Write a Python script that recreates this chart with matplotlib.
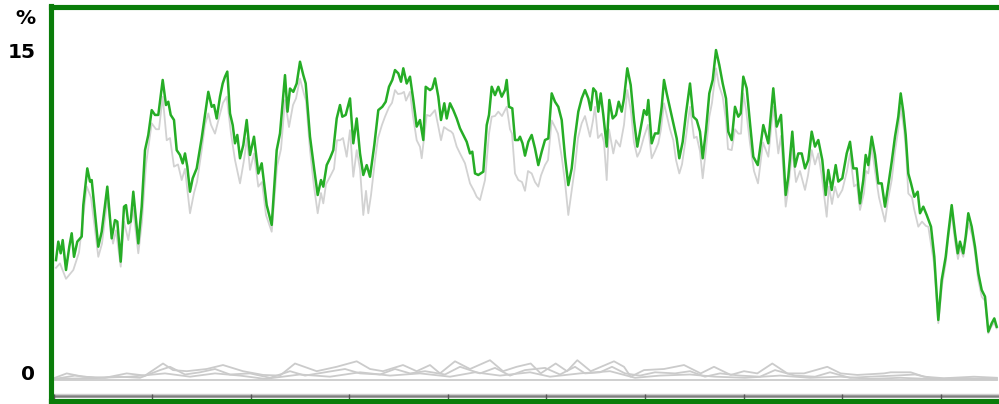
import numpy as np
import matplotlib
matplotlib.use("Agg")
import matplotlib.pyplot as plt
from matplotlib.ticker import MultipleLocator
from matplotlib.transforms import ScaledTranslation

# Positions along the time axis and values in %
green_t = [56, 58.3, 60.7, 62.7, 66, 69.3, 71.7, 74, 77.3, 81.7, 83.3, 87.3, 90, 91.7, 95, 98.3,
           101.7, 107.3, 111.7, 115, 117.3, 120.7, 124, 126, 128.3, 130.7, 133.3, 138.3, 141.7,
           145, 148.3, 151.7, 155, 158.3, 162.7, 166, 168.3, 170.7, 174, 176.7, 180, 182.7, 185,
           187.3, 190, 192.7, 196.7, 201.7, 206, 208.3, 211.7, 214, 216.7, 220, 222.7, 225, 227.3,
           230, 232.7, 235, 237.3, 240, 243.3, 246.7, 250, 254, 258.3, 261.7, 266.7, 271.7, 276.7,
           280, 285, 287.5, 290, 293.3, 296.7, 300, 303.3, 305.7, 310, 314.3, 317.7, 321, 323.3,
           326.7, 330, 333.3, 336.7, 340, 342.3, 345.7, 350, 353.3, 356.7, 360, 363.3, 366.7, 370,
           374.3, 378.3, 382.3, 385.7, 389, 392.3, 395, 398.3, 401, 403.3, 406.7, 410, 413.3,
           416.7, 420, 423.3, 425.7, 430, 432.3, 435, 438.3, 441, 444.3, 446.7, 450, 453.3, 456.7,
           460, 463.3, 466.7, 470, 472.3, 475, 478.3, 483.3, 486.7, 489, 491.7, 495, 498.3, 501.7,
           505, 506.7, 509, 512.3, 515, 518.3, 520, 522.5, 525, 528.3, 531.7, 535, 538.3, 541.7,
           545, 548.3, 551.7, 555, 558.3, 561.7, 565, 568.3, 571.7, 575, 578.3, 581.7, 585, 588.3,
           590.7, 593.3, 596, 598.3, 600.7, 603.3, 606.7, 609.3, 612.7, 616, 618.7, 621.7, 624,
           627.3, 630.7, 634, 637.3, 640.7, 644, 646.7, 648.3, 651.7, 655, 658.3, 661.7, 664,
           666.7, 670, 673.3, 676.7, 679.3, 682.7, 686, 690, 693.3, 696.7, 700, 702.7, 706, 709.3,
           712.7, 716, 719.3, 722.7, 726, 728.3, 731.7, 735, 738.3, 740.7, 743.3, 746.7, 750,
           753.3, 757.8, 763.3, 768.3, 773.3, 776.7, 781, 785.7, 788.3, 792.3, 795, 798.3, 801.7,
           805, 808.3, 811.7, 815, 818.3, 822.3, 825.7, 828.3, 831.7, 835.7, 838.3, 842.3, 846.7,
           850, 853.3, 856.7, 860, 863.3, 865.7, 868.3, 871.7, 875, 878.3, 881.7, 885, 888.3,
           891.7, 895, 898.3, 900.7, 903.3, 905.7, 908.3, 911, 914.3, 917.7, 920, 923.3, 926.7,
           931, 934.3, 938.3, 941.7, 945.7, 948.3, 951.7, 955, 957.7, 960, 963.3, 965.7, 968.3,
           971.7, 975, 978.3, 981.7, 985, 988.3, 991.7, 994.3, 996.7]
green_v = [5.45, 6.29, 5.76, 6.36, 5.0, 6.06, 6.67, 5.6, 6.29, 6.52, 7.95, 9.62, 9.02, 9.09, 7.58, 6.06,
           6.74, 8.79, 6.44, 7.27, 7.2, 5.38, 7.88, 7.95, 7.12, 7.2, 8.56, 6.21, 7.88,
           10.45, 11.14, 12.27, 12.05, 12.05, 13.64, 12.5, 12.65, 12.05, 11.82, 10.45, 10.23, 9.85, 10.3,
           9.7, 8.56, 9.17, 9.62, 11.0, 12.35, 13.1, 12.42, 12.5, 11.89, 12.88, 13.48, 13.79, 14.02,
           12.12, 11.59, 10.76, 11.14, 10.08, 10.68, 11.82, 10.23, 11.06, 9.39, 9.85, 7.95, 7.05, 10.45,
           11.21, 13.86, 12.2, 13.25, 13.1, 13.48, 14.47, 13.86, 13.48, 11.06, 9.55, 8.41, 9.09, 8.79,
           9.77, 10.08, 10.45, 11.89, 12.5, 11.97, 12.05, 12.8, 10.76, 11.89, 10.3, 9.32, 9.77, 9.24,
           10.68, 12.27, 12.42, 12.65, 13.33, 13.64, 14.09, 13.94, 13.56, 14.17, 13.48, 13.79, 12.73,
           11.52, 11.82, 10.91, 13.33, 13.18, 13.26, 13.71, 12.88, 11.82, 12.58, 11.89, 12.58, 12.27, 11.89,
           11.44, 11.14, 10.83, 10.3, 10.38, 9.39, 9.32, 9.47, 11.59, 12.05, 13.33, 12.95, 13.33, 12.88,
           13.18, 13.64, 12.42, 12.35, 10.91, 10.91, 11.06, 10.76, 10.2, 10.83, 11.14, 10.53, 9.77, 10.38,
           10.91, 10.98, 13.03, 12.65, 12.42, 11.82, 10.15, 8.86, 9.62, 11.06, 12.2, 12.8, 13.18, 12.8,
           12.27, 13.26, 13.1, 12.2, 13.03, 12.05, 10.61, 12.73, 11.89, 12.05, 12.65, 12.2, 12.8,
           14.17, 13.41, 11.82, 10.61, 11.44, 12.27, 12.05, 12.73, 10.76, 11.21, 11.21, 12.42, 13.64,
           13.03, 12.35, 11.67, 10.98, 10.08, 10.83, 12.12, 13.48, 11.97, 11.82, 11.29, 10.08, 11.36, 13.03,
           13.64, 15.0, 14.32, 13.48, 12.8, 11.29, 10.91, 12.42, 11.97, 12.12, 13.79, 13.26, 11.67,
           10.15, 9.77, 11.59, 10.76, 13.26, 11.52, 12.05, 8.41, 9.24, 11.29, 9.7, 10.3, 10.3,
           9.62, 10.0, 11.29, 10.61, 10.91, 10.0, 8.41, 9.55, 8.64, 9.77, 9.02, 9.17, 10.3,
           10.83, 9.62, 9.62, 8.03, 9.09, 10.23, 9.77, 11.06, 10.23, 8.94, 8.94, 7.88, 8.86,
           9.92, 11.06, 11.97, 13.03, 12.2, 11.14, 9.39, 8.94, 8.33, 8.56, 7.58, 7.88, 7.5,
           6.97, 5.6, 2.73, 4.55, 5.6, 6.67, 7.95, 6.67, 5.76, 6.29, 5.76, 6.52, 7.58,
           6.97, 6.06, 4.85, 4.09, 3.79, 2.2, 2.58, 2.8, 2.42]

shadow_t = [56, 60, 66, 73.3, 79, 86.7, 91, 94, 98.3, 102, 107.3, 113, 116, 120.7, 124, 128.3,
            133, 138.3, 142, 146, 151.7, 156, 159, 162.7, 166.7, 170, 174, 178, 181.7, 185, 190,
            194, 197, 201.7, 205, 208.3, 211, 215, 220, 223, 226.7, 231, 235, 240, 244, 247, 250,
            254, 258.3, 262, 266, 271.7, 277, 281, 285, 289, 293, 296, 300, 304, 306, 310, 314,
            317.7, 321, 323.3, 326, 330, 334, 337, 340, 343, 346.7, 350, 353.3, 356.7, 360, 363.3,
            366, 368.3, 371, 375, 378, 382, 385, 389, 392, 395, 398, 401.7, 404, 406, 410, 413,
            416.7, 420, 421.7, 426.7, 430, 435, 438, 441, 444, 448.3, 451, 453, 456.7, 460, 465,
            470, 474, 476.7, 480, 485, 489, 491.7, 495, 498.3, 502, 506.7, 510, 512, 515, 518.3,
            522, 525, 528, 531.7, 535, 538.3, 541, 545, 548, 551.7, 555, 558, 561.7, 565, 568.3,
            571, 575, 578, 581.7, 585, 590, 593, 595, 598, 601.7, 604, 606.7, 609, 613.3, 616,
            620, 624, 627.3, 631, 634, 637.3, 640, 644, 648, 651.7, 655, 658.3, 661, 664, 667,
            670, 673.3, 676, 679.3, 682, 686, 690, 694, 696.7, 700, 702.7, 706, 709.3, 712, 716,
            719, 722.7, 726, 728, 731.7, 735, 738.3, 741, 743.3, 746, 750, 754, 758, 763, 768.3,
            773.3, 778.3, 781, 785.7, 788, 792.3, 796, 800, 805, 808, 811.7, 815, 818.3, 822,
            826.7, 829, 832, 835, 838, 842.3, 847, 850, 854, 857, 860, 864, 866, 868.3, 871.7,
            875, 879, 885, 888, 891.7, 895, 898, 900.7, 904, 906, 908.3, 912, 914, 918.3, 922,
            926, 928.3, 934, 938.3, 942, 946, 948, 951.7, 955, 958, 960, 963.3, 968.3, 972, 975,
            978, 981.7, 985, 988.3, 991, 994, 996.7]
shadow_v = [5.1, 5.3, 4.6, 5.0, 5.8, 8.8, 8.3, 7.2, 5.6, 6.2, 8.2, 6.2, 6.8, 5.15, 7.2, 6.36,
            7.8, 5.76, 7.2, 9.8, 11.67, 11.4, 11.4, 12.88, 10.9, 11.0, 9.7, 9.8, 9.09, 9.6, 7.58,
            8.5, 9.0, 10.45, 11.6, 12.12, 11.6, 11.2, 12.1, 12.6, 12.88, 11.2, 10.0, 8.94, 10.0, 11.0, 9.55,
            10.3, 8.79, 9.0, 7.5, 6.74, 9.7, 10.5, 12.73, 11.5, 12.5, 12.8, 13.7, 13.0, 12.7, 10.45, 8.8,
            7.58, 8.5, 8.03, 8.9, 9.24, 9.6, 10.9, 10.9, 11.0, 10.15, 11.36, 9.24, 10.45, 9.6, 7.5,
            8.6, 7.58, 8.4, 10.0, 11.0, 11.6, 11.97, 12.4, 12.6, 13.18, 13.0, 13.03, 13.1, 12.7, 13.1, 12.0,
            10.9, 10.6, 10.08, 12.05, 12.0, 12.27, 11.6, 10.9, 11.5, 11.36, 11.3, 11.2, 10.61, 10.3, 9.85,
            8.94, 8.6, 8.33, 8.18, 9.09, 11.2, 11.97, 12.0, 12.2, 12.0, 12.42, 11.4, 11.2, 9.39, 9.09,
            9.0, 8.6, 9.5, 9.39, 9.0, 8.79, 9.3, 9.77, 10.0, 11.8, 11.5, 11.2, 10.15, 9.0, 7.5,
            8.4, 9.7, 11.0, 11.67, 12.0, 11.06, 11.8, 12.42, 11.0, 11.2, 10.8, 9.09, 11.4, 10.3, 10.9,
            10.61, 11.6, 13.18, 12.2, 10.8, 10.15, 10.4, 11.06, 11.6, 10.08, 10.4, 10.76, 11.4, 12.58, 12.0,
            11.4, 10.9, 10.0, 9.39, 9.8, 11.06, 12.42, 11.0, 11.06, 10.4, 9.17, 10.5, 11.97, 12.6, 14.17,
            13.4, 12.88, 11.8, 10.5, 10.45, 11.4, 11.2, 11.2, 13.03, 12.3, 10.76, 9.5, 8.94, 10.8, 10.15,
            12.42, 10.3, 11.1, 7.88, 8.6, 10.45, 9.0, 9.5, 8.64, 9.3, 10.45, 9.8, 10.3, 9.2,
            7.42, 8.8, 8.0, 8.79, 8.3, 8.64, 9.5, 10.3, 8.8, 8.9, 7.73, 8.5, 9.5, 9.39, 10.61,
            9.5, 8.3, 7.2, 8.2, 9.09, 10.4, 11.3, 12.42, 11.4, 10.4, 8.48, 8.3, 7.8, 6.97, 7.2,
            7.0, 6.97, 5.3, 2.58, 4.3, 5.4, 6.4, 7.58, 6.3, 5.5, 6.0, 5.6, 7.12, 6.6, 5.8,
            4.6, 3.79, 3.6, 2.12, 2.4, 2.6, 2.35]

# Small series near zero
low1_t = [55, 66.7, 83, 105, 126.7, 145, 163, 173, 186.7, 206.7, 223, 243, 263, 280, 295, 316.7,
          336.7, 356.7, 370, 383, 403, 416.7, 430, 440, 455, 470, 490, 503, 516.7, 530.7, 540.7,
          555.7, 567, 577.3, 590.7, 614, 624, 630.7, 644, 664, 684, 700.7, 714, 730.7, 744, 757.3,
          772.3, 787.3, 804, 827.3, 840.7, 857.3, 884, 890.7, 910.7, 924, 944, 974, 997]
low1_v = [0.1, 0.3, 0.15, 0.1, 0.3, 0.2, 0.75, 0.45, 0.4, 0.5, 0.68, 0.4, 0.23, 0.2, 0.75, 0.4,
          0.6, 0.85, 0.5, 0.4, 0.68, 0.4, 0.68, 0.3, 0.85, 0.5, 0.9, 0.4, 0.6, 0.75, 0.3,
          0.75, 0.4, 0.9, 0.4, 0.85, 0.6, 0.15, 0.45, 0.5, 0.68, 0.3, 0.6, 0.23, 0.4, 0.3,
          0.75, 0.3, 0.3, 0.6, 0.3, 0.23, 0.3, 0.35, 0.35, 0.15, 0.08, 0.15, 0.1]

low2_t = [55, 75, 95, 120, 140, 160, 170, 185, 200, 215, 230, 250, 270, 290, 305, 325, 345, 360,
          380, 395, 410, 425, 445, 460, 480, 495, 510, 525, 545, 560, 575, 585, 600, 612, 625,
          640, 655, 675, 690, 705, 720, 740, 760, 775, 795, 815, 830, 850, 870, 895, 915, 935,
          960, 997]
low2_v = [0.05, 0.2, 0.1, 0.15, 0.1, 0.45, 0.6, 0.25, 0.35, 0.5, 0.25, 0.3, 0.1, 0.4, 0.2, 0.35,
          0.5, 0.3, 0.25, 0.5, 0.3, 0.4, 0.25, 0.6, 0.3, 0.55, 0.2, 0.45, 0.55, 0.25, 0.6, 0.3,
          0.35, 0.6, 0.3, 0.2, 0.35, 0.3, 0.4, 0.15, 0.3, 0.2, 0.15, 0.45, 0.2, 0.15, 0.35,
          0.1, 0.15, 0.2, 0.25, 0.05, 0.08, 0.05]

low3_t = [55, 90, 130, 165, 190, 215, 240, 265, 300, 330, 360, 390, 420, 450, 475, 500, 530, 550,
          580, 610, 635, 660, 690, 715, 745, 780, 810, 840, 870, 900, 930, 997]
low3_v = [0.05, 0.08, 0.15, 0.3, 0.15, 0.3, 0.2, 0.05, 0.25, 0.15, 0.35, 0.2, 0.3, 0.15, 0.35, 0.2,
          0.35, 0.15, 0.3, 0.4, 0.1, 0.2, 0.25, 0.15, 0.1, 0.2, 0.1, 0.15, 0.05, 0.1, 0.05, 0.02]

base_t = [55, 997]
base_v = [0.0, 0.0]

y_ticks = [0, 15]

frame_green = "#0a7d0a"

fig = plt.figure(figsize=(9.99, 4.04), dpi=100)
ax = fig.add_axes([50.5 / 999, 3 / 404, (1000 - 50.5) / 999, (401 - 6.5) / 404])

for t, v in [(base_t, base_v), (low3_t, low3_v), (low2_t, low2_v), (low1_t, low1_v)]:
    ax.plot(t, v, color="#cbcbcb", lw=1.3, zorder=2)
ax.plot(shadow_t, shadow_v, color="#d2d2d2", lw=1.3, zorder=3)
ax.plot(green_t, green_v, color="#26ad26", lw=1.8, zorder=4)

ax.set_xlim(50.5, 1000)
ax.set_ylim(-0.955, 16.98)

# grey time bar along the bottom
ax.axhline(-0.63, color="#cfcfcf", lw=1.0, zorder=1)
ax.axhline(-0.74, color="#7f7f7f", lw=1.8, zorder=1)

ax.xaxis.set_major_locator(MultipleLocator(98.6, offset=53.5))
ax.tick_params(axis="x", direction="in", length=5, width=1, color="#555555", labelbottom=False)
ax.set_yticks(y_ticks)
ax.set_yticklabels([str(v) for v in y_ticks])
ax.tick_params(axis="y", length=0, pad=11, labelsize=14.5)
for lab in ax.get_yticklabels():
    lab.set_fontweight("bold")
ax.get_yticklabels()[0].set_transform(ax.get_yticklabels()[0].get_transform()
                                       + ScaledTranslation(0, 0.07, fig.dpi_scale_trans))

for side in ["left", "top", "bottom"]:
    ax.spines[side].set_color(frame_green)
    ax.spines[side].set_linewidth(3.7)
    ax.spines[side].set_zorder(6)
ax.spines["right"].set_visible(False)

fig.text(35 / 999, 1 - 19 / 404, "%", ha="right", va="center", fontsize=14.5, fontweight="bold")

fig.savefig("out.png", dpi=100)
